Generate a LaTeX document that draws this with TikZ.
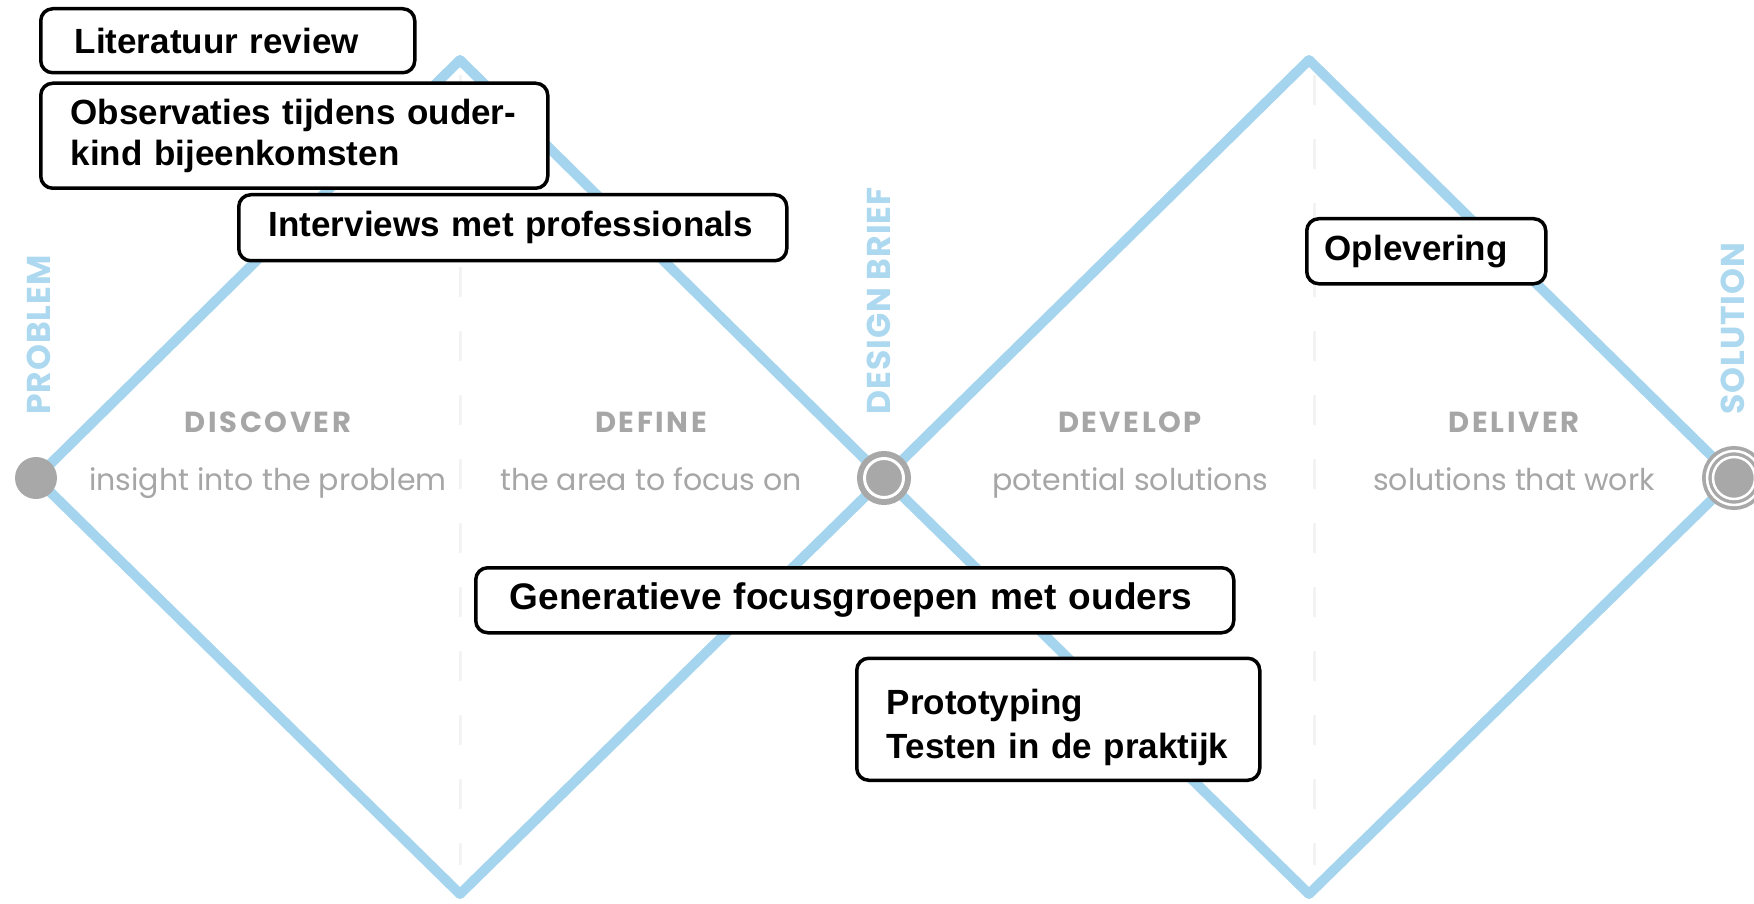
\documentclass[tikz,border=0pt]{standalone}
\usepackage{fontspec}
\setmainfont{Liberation Sans}
\newfontfamily\phasefont{Poppins}
\newfontfamily\phasewide{Poppins}[LetterSpace=9]
\newfontfamily\milestonefont{Poppins}[LetterSpace=3]
\usepackage{tikz}
\usetikzlibrary{positioning}

\definecolor{ddblue}{RGB}{165,213,238}
\definecolor{ddlabel}{RGB}{172,216,240}
\definecolor{ddgrey}{RGB}{168,168,168}
\definecolor{ddtext}{RGB}{166,166,166}
\definecolor{ddguide}{RGB}{243,243,243}

\begin{document}
\begin{tikzpicture}[x=1pt, y=-1pt,
node distance = 35pt and 0pt,
activity/.style={rectangle, draw=black, fill=white, line width=3.5pt, rounded corners=12pt, anchor=north west, align=left, inner xsep=34pt, inner ysep=0pt, font=\fontsize{35}{41}\selectfont\bfseries},
phase/.style={text=ddtext, inner sep=0pt, font=\phasewide\fontsize{29}{29}\selectfont\bfseries},
phasesub/.style={text=ddtext, inner sep=0pt, font=\phasefont\fontsize{30}{30}\selectfont},
milestone/.style={text=ddlabel, rotate=90, anchor=west, inner sep=0pt, font=\milestonefont\fontsize{33}{33}\selectfont\bfseries},
endpoint/.style={circle, fill=ddgrey, inner sep=0pt},
track/.style={draw=ddblue, line width=10pt, line join=round},
guide/.style={draw=ddguide, line width=3pt, dash pattern=on 30pt off 34pt}]

\path[use as bounding box, fill=white] (0,0) rectangle (1754,904);

\coordinate (p) at (36,478);
\coordinate (d1t) at (460,60);
\coordinate (b) at (884,478);
\coordinate (d1b) at (460,894);
\coordinate (d2t) at (1309,60);
\coordinate (s) at (1734,478);
\coordinate (d2b) at (1309,894);

\draw[guide] (460,75) -- (460,865);
\draw[guide] (1314,75) -- (1314,865);

\draw[track] (p) -- (d1t) -- (b) -- (d1b) -- cycle;
\draw[track] (b) -- (d2t) -- (s) -- (d2b) -- cycle;

\node[endpoint, minimum size=42pt] (problem) at (p) {};
\node[endpoint, minimum size=39pt, draw=ddgrey, line width=6pt, double=white, double distance=3pt] (brief) at (b) {};
\node[endpoint, minimum size=54pt, draw=ddgrey, line width=3.75pt, double=white, double distance=2.5pt] (solution) at (s) {};
\draw[white, line width=2.5pt] (solution) circle[radius=21pt];

\node[milestone] (problemlbl) at (39,415) {PROBLEM};
\node[milestone] (brieflbl) at (879,415) {DESIGN BRIEF};
\node[milestone] (solutionlbl) at (1733,415) {SOLUTION};

\node[phase] (discover) at (268,422) {DISCOVER};
\node[phasesub] (discoversub) [below=of discover] {insight into the problem};
\node[phase] (define) at (651,422) {DEFINE};
\node[phasesub] (definesub) [below=of define] {the area to focus on};
\node[phase] (develop) at (1130,422) {DEVELOP};
\node[phasesub] (developsub) [below=of develop] {potential solutions};
\node[phase] (deliver) at (1514,422) {DELIVER};
\node[phasesub] (deliversub) [below=of deliver] {solutions that work};

\node[activity, text width=306pt, minimum height=64pt] (literatuur) at (39,7) {Literatuur review};
\node[activity, inner xsep=30pt, text width=447pt, minimum height=105pt] (observaties) [below right=7pt and 0pt of literatuur.south west] {Observaties tijdens ouder-\\kind bijeenkomsten};
\node[activity, inner xsep=30pt, text width=488pt, minimum height=66pt] (interviews) [below right=3pt and 198pt of observaties.south west] {Interviews met professionals};
\node[activity, inner xsep=18pt, text width=203pt, minimum height=65pt] (oplevering) at (1305,217) {Oplevering};
\node[activity, inner xsep=34pt, text width=690pt, minimum height=65pt, font=\fontsize{37}{41}\selectfont\bfseries] (generatief) at (474,566) {Generatieve focusgroepen met ouders};
\node[activity, inner xsep=30pt, text width=343pt, minimum height=122pt, font=\fontsize{35}{44}\selectfont\bfseries] (prototyping) [below right=22pt and 381pt of generatief.south west] {\rule{0pt}{41pt}Prototyping\\Testen in de praktijk};
\end{tikzpicture}
\end{document}
